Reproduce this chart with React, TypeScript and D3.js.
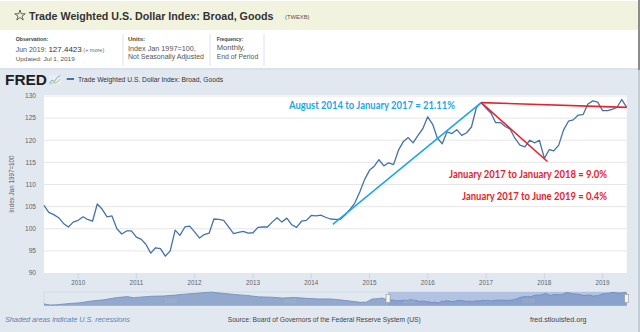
import React from "react";
import * as d3 from "d3";

// ---- data ----
const startMonth = "2009-06-01";
const values: number[] = [
  // 2009 Jun-Dec
  105.3, 103.7, 103.2, 102.5, 101.2, 100.4, 101.5,
  // 2010
  101.9, 102.7, 102.1, 101.7, 105.6, 104.4, 102.7, 102.9, 100.0, 98.8, 99.5, 99.5,
  // 2011
  98.1, 97.6, 96.5, 94.5, 95.7, 95.5, 93.8, 95.0, 99.7, 98.5, 100.4, 100.6,
  // 2012
  99.3, 97.9, 98.7, 99.0, 102.2, 102.1, 101.9, 100.4, 98.9, 99.2, 99.4, 99.0,
  // 2013
  99.1, 100.3, 100.4, 100.4, 101.5, 102.5, 101.5, 102.4, 100.9, 100.3, 101.7, 101.9,
  // 2014
  103.0, 102.9, 103.1, 102.6, 102.2, 102.1, 102.1, 103.1, 104.4, 105.8, 108.3, 111.1,
  // 2015
  113.2, 114.2, 115.6, 114.2, 114.9, 114.5, 117.7, 119.7, 120.6, 119.4, 121.1, 122.6,
  // 2016
  125.3, 123.6, 120.5, 119.2, 121.9, 121.5, 122.4, 121.1, 121.7, 123.0, 127.4, 128.5,
  // 2017
  127.2, 126.1, 124.0, 124.0, 123.1, 122.5, 120.4, 118.9, 118.5, 120.0, 119.4, 120.0,
  // 2018
  115.9, 117.9, 117.6, 118.9, 122.3, 124.3, 124.6, 125.7, 125.8, 128.2, 128.9, 128.6,
  // 2019 Jan-Jun
  126.7, 126.7, 127.0, 127.4, 129.2, 127.44,
];

// navigator history before the selected window (coarse)
const navDates = [
  "1995-01-01", "1995-04-01", "1995-07-01", "1996-01-01", "1996-07-01", "1997-01-01",
  "1997-07-01", "1998-01-01", "1998-07-01", "1998-10-01", "1999-01-01", "1999-07-01",
  "2000-01-01", "2000-07-01", "2001-01-01", "2001-07-01", "2002-01-01", "2002-07-01",
  "2003-01-01", "2003-07-01", "2004-01-01", "2004-07-01", "2005-01-01", "2005-07-01",
  "2006-01-01", "2006-07-01", "2007-01-01", "2007-07-01", "2008-01-01", "2008-04-01",
  "2008-07-01", "2008-10-01", "2009-01-01", "2009-03-01", "2009-05-01",
];
const navValues = [
  90, 86.5, 87, 91, 94, 100, 104, 111, 115, 111, 113, 116, 117, 120, 124, 127, 130, 126,
  122, 119, 114, 113, 110, 112, 109, 107, 107, 103, 98, 95.5, 96, 107, 108, 110, 106,
];

const yTicks = [90, 95, 100, 105, 110, 115, 120, 125, 130];
const xTickYears = [2010, 2011, 2012, 2013, 2014, 2015, 2016, 2017, 2018, 2019];
const navLabelYears = [2000, 2005, 2010, 2015];

const annotations = [
  { from: ["2014-05-16", 101.0], to: ["2016-12-01", 128.5], color: "#1ea6e8" },
  { from: ["2016-12-01", 128.5], to: ["2018-01-20", 115.2], color: "#e8222b" },
  { from: ["2016-12-01", 128.5], to: ["2019-06-01", 127.44], color: "#e8222b" },
];
const annoTexts = [
  { text: "August 2014 to January 2017 = 21.11%", color: "#1ea6e8", x: 289, y: 108.5, len: 166 },
  { text: "January 2017 to January 2018 = 9.0%", color: "#e8222b", x: 449, y: 177.5, len: 158 },
  { text: "January 2017 to June 2019 = 0.4%", color: "#e8222b", x: 462, y: 199.5, len: 145 },
];

const W = 640;
const H = 332;
const FONT = "'Liberation Sans', Arial, sans-serif";

export default function App() {
  const parse = d3.timeParse("%Y-%m-%d");
  const start = parse(startMonth)!;
  const dates = values.map((_, i) => d3.timeMonth.offset(start, i));
  const end = dates[dates.length - 1];

  const x = d3.scaleTime().domain([start, end]).range([44, 626.7]);
  const y = d3.scaleLinear().domain([90, 130]).range([273, 96]);

  const line = d3
    .line<number>()
    .x((_, i) => x(dates[i]))
    .y((d) => y(d));

  const navAllDates = navDates.map((d) => parse(d)!).concat(dates);
  const navAllValues = navValues.concat(values);
  const nx = d3.scaleTime().domain([parse("1995-01-01")!, end]).range([44, 626.7]);
  const ny = d3.scaleLinear().domain([84, 130.5]).range([305.7, 292]);
  const navArea = d3
    .area<number>()
    .x((_, i) => nx(navAllDates[i]))
    .y0(305.7)
    .y1((d) => ny(d));
  const navLine = d3
    .line<number>()
    .x((_, i) => nx(navAllDates[i]))
    .y((d) => ny(d));
  const selX = nx(start);

  const star = d3.symbol(d3.symbolStar, 34)()!;

  return (
    <svg width={W} height={H} style={{ position: "absolute", left: 0, top: 0 }} fontFamily={FONT}>
      <rect x={0} y={0} width={W} height={H} fill="#ffffff" />
      {/* header band */}
      <rect x={0} y={1} width={638} height={29} fill="#f1f3df" />
      <path d={star} transform="translate(20,15.5)" fill="none" stroke="#555" strokeWidth={0.9} />
      <text x={29} y={19.5} fill="#333" fontSize={10.7} fontWeight="bold">
        Trade Weighted U.S. Dollar Index: Broad, Goods
      </text>
      <text x={285} y={18.5} fontSize={5.8} fill="#555">
        (TWEXB)
      </text>

      {/* info row */}
      <text x={15.7} y={41} fontSize={5.2} fontWeight="bold" fill="#444" textLength={32.5} lengthAdjust="spacingAndGlyphs">Observation:</text>
      <text x={15.7} y={51.5} fontSize={7} fill="#555">
        <tspan>Jun 2019: </tspan>
        <tspan fontSize={8} fill="#333">127.4423</tspan>
        <tspan fontSize={5.5} fill="#666"> (+ more)</tspan>
      </text>
      <text x={15.7} y={60.5} fontSize={6} fill="#555" textLength={59} lengthAdjust="spacingAndGlyphs">Updated: Jul 1, 2019</text>
      <line x1={123} x2={123} y1={34} y2={66} stroke="#e2e2e2" />
      <text x={128} y={41} fontSize={5.2} fontWeight="bold" fill="#444" textLength={17} lengthAdjust="spacingAndGlyphs">Units:</text>
      <text x={128} y={51} fontSize={6.8} fill="#555" textLength={67.7} lengthAdjust="spacingAndGlyphs">Index Jan 1997=100,</text>
      <text x={128} y={59} fontSize={6.8} fill="#555" textLength={76} lengthAdjust="spacingAndGlyphs">Not Seasonally Adjusted</text>
      <line x1={210} x2={210} y1={34} y2={66} stroke="#e2e2e2" />
      <text x={216.7} y={41} fontSize={5.2} fontWeight="bold" fill="#444" textLength={26.5} lengthAdjust="spacingAndGlyphs">Frequency:</text>
      <text x={216.7} y={49.5} fontSize={6.8} fill="#555" textLength={28.3} lengthAdjust="spacingAndGlyphs">Monthly,</text>
      <text x={216.7} y={58.5} fontSize={6.8} fill="#555" textLength={41.5} lengthAdjust="spacingAndGlyphs">End of Period</text>
      <line x1={264} x2={264} y1={34} y2={66} stroke="#e2e2e2" />

      {/* chart background */}
      <rect x={0} y={68} width={638} height={2} fill="#d8e1ec" />
      <rect x={0} y={70} width={638} height={H - 70} fill="#e1e8f0" />
      <rect x={638} y={0} width={2} height={70} fill="#8c8c8c" />
      <rect x={638} y={70} width={2} height={H - 70} fill="#c4ccd6" />

      {/* FRED logo + legend */}
      <text x={5} y={85} fontSize={15} fontWeight={900} fill="#1e1e1e" textLength={42} lengthAdjust="spacingAndGlyphs">FRED</text>
      <rect x={49} y={75} width={12} height={9} fill="#e9eef3" />
      <polyline points="49.5,83 52,80 54.5,81.5 57,77.5 60.5,75.5" fill="none" stroke="#7aa0c8" strokeWidth={0.9} />
      <polyline points="49.5,84 53,82.5 56,83 60.5,79" fill="none" stroke="#9cbf6a" strokeWidth={0.8} />
      <line x1={66.7} x2={74} y1={79} y2={79} stroke="#4572a7" strokeWidth={2} />
      <text x={78} y={81.6} fontSize={7} fill="#333" textLength={145} lengthAdjust="spacingAndGlyphs">
        Trade Weighted U.S. Dollar Index: Broad, Goods
      </text>

      {/* plot area */}
      <rect x={44} y={95} width={582.7} height={178} fill="#ffffff" />
      {yTicks.filter((t) => t > 90).map((t) => (
        <line key={"g" + t} x1={44} x2={626.7} y1={y(t)} y2={y(t)} stroke="#e6e6e6" strokeWidth={1} />
      ))}
      {yTicks.map((t) => (
        <text key={"yl" + t} x={36} y={y(t) + 2.3} fontSize={6.6} fill="#666" textAnchor="end">
          {t}
        </text>
      ))}
      <text transform="translate(14,184) rotate(-90)" fontSize={6.3} fill="#666" textAnchor="middle">
        Index Jan 1997=100
      </text>
      {xTickYears.map((yr) => {
        const xx = x(new Date(yr, 0, 1));
        return (
          <g key={"xt" + yr}>
            <line x1={xx} x2={xx} y1={273} y2={279} stroke="#ccd6eb" />
            <text x={xx} y={284.8} fontSize={6.3} fill="#666" textAnchor="middle">
              {yr}
            </text>
          </g>
        );
      })}

      <path d={line(values)!} fill="none" stroke="#4572a7" strokeWidth={1.3} strokeLinejoin="round" />

      {annotations.map((a, i) => (
        <line
          key={"a" + i}
          x1={x(parse(a.from[0] as string)!)}
          y1={y(a.from[1] as number)}
          x2={x(parse(a.to[0] as string)!)}
          y2={y(a.to[1] as number)}
          stroke={a.color}
          strokeWidth={1.6}
        />
      ))}
      {annoTexts.map((t, i) => (
        <text
          key={"at" + i}
          x={t.x}
          y={t.y}
          fontFamily="Lato, 'Open Sans', sans-serif"
          fontSize={10.5}
          fontWeight="bold"
          fill={t.color}
          textLength={t.len}
          lengthAdjust="spacingAndGlyphs"
        >
          {t.text}
        </text>
      ))}

      {/* navigator */}
      <rect x={44} y={292} width={582.7} height={13.7} fill="#e1e8f0" stroke="#c7d1de" strokeWidth={0.6} />
      <rect x={selX} y={292} width={626.7 - selX} height={13.7} fill="#bccbe6" />
      <path d={navArea(navAllValues)!} fill="#8aa2c9" fillOpacity={0.9} />
      <path d={navLine(navAllValues)!} fill="none" stroke="#6d8bbd" strokeWidth={0.8} />
      <rect x={selX} y={292} width={626.7 - selX} height={13.7} fill="#6685c2" fillOpacity={0.12} />
      {navLabelYears.map((yr) => (
        <text key={"nl" + yr} x={nx(new Date(yr, 0, 1)) + 1} y={302.5} fontSize={5.5} fill="#a7b5cc">
          {yr}
        </text>
      ))}
      <rect x={selX - 2} y={294.5} width={4} height={8} fill="#f4f4f4" stroke="#999" strokeWidth={0.6} />
      <rect x={626.7 - 2} y={294.5} width={4} height={8} fill="#f4f4f4" stroke="#999" strokeWidth={0.6} />

      {/* footer */}
      <text x={5} y={321.5} fontSize={7} fontStyle="italic" fill="#5b7fb5" textLength={125} lengthAdjust="spacingAndGlyphs">
        Shaded areas indicate U.S. recessions
      </text>
      <text x={227.7} y={321.5} fontSize={7} fill="#444" textLength={193} lengthAdjust="spacingAndGlyphs">
        Source: Board of Governors of the Federal Reserve System (US)
      </text>
      <text x={530} y={321.5} fontSize={7} fill="#444" textLength={56.5} lengthAdjust="spacingAndGlyphs">
        fred.stlouisfed.org
      </text>
    </svg>
  );
}
